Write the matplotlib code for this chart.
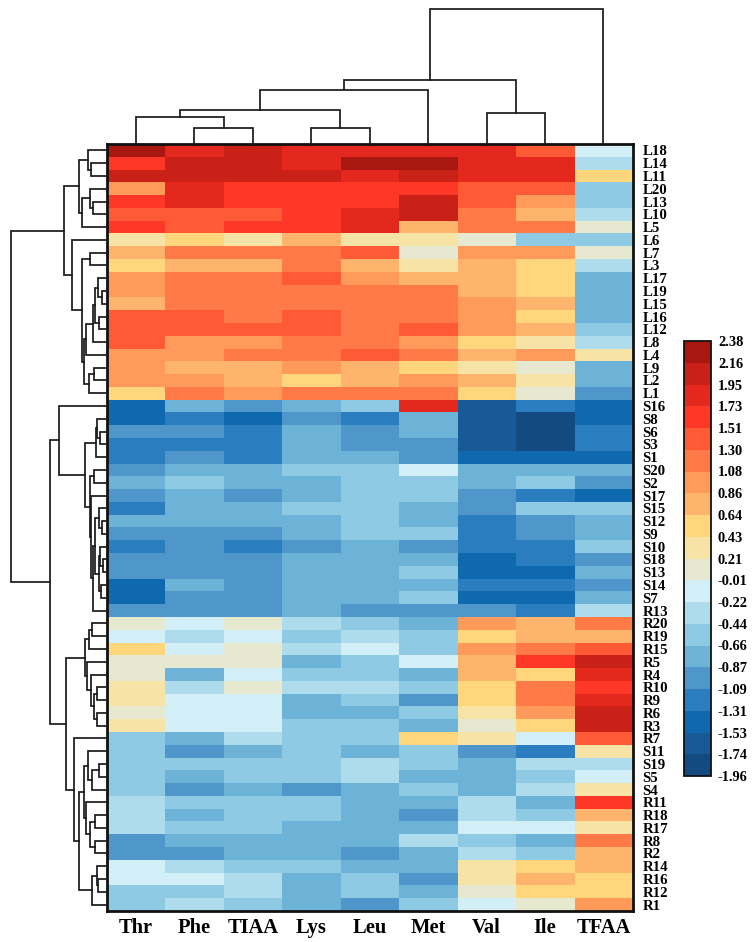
import matplotlib
matplotlib.use("Agg")
import matplotlib.pyplot as plt
import numpy as np
from matplotlib.colors import ListedColormap, BoundaryNorm

plt.rcParams['font.family'] = 'Liberation Serif'
plt.rcParams['font.weight'] = 'bold'

col_names = ['Thr', 'Phe', 'TIAA', 'Lys', 'Leu', 'Met', 'Val', 'Ile', 'TFAA']
row_names = ['L18', 'L14', 'L11', 'L20', 'L13', 'L10', 'L5', 'L6', 'L7', 'L3',
             'L17', 'L19', 'L15', 'L16', 'L12', 'L8', 'L4', 'L9', 'L2', 'L1',
             'S16', 'S8', 'S6', 'S3', 'S1', 'S20', 'S2', 'S17', 'S15', 'S12',
             'S9', 'S10', 'S18', 'S13', 'S14', 'S7', 'R13', 'R20', 'R19', 'R15',
             'R5', 'R4', 'R10', 'R9', 'R6', 'R3', 'R7', 'S11', 'S19', 'S5',
             'S4', 'R11', 'R18', 'R17', 'R8', 'R2', 'R14', 'R16', 'R12', 'R1']

thr = [2.27, 1.62, 2.05, 0.97, 1.62, 1.40, 1.62, 0.32, 0.75, 0.53,
       0.97, 0.97, 0.75, 1.40, 1.40, 1.40, 0.97, 0.97, 0.97, 0.53,
       -1.42, -1.42, -0.98, -1.20, -1.20, -0.98, -0.77, -0.98, -1.20, -0.77,
       -0.98, -1.20, -0.98, -0.98, -1.42, -1.42, -0.98, 0.10, -0.12, 0.53,
       0.10, 0.10, 0.32, 0.32, 0.10, 0.32, -0.55, -0.55, -0.55, -0.55,
       -0.55, -0.33, -0.33, -0.33, -0.98, -0.98, -0.12, -0.12, -0.55, -0.55]
phe = [1.84, 2.05, 2.05, 1.84, 1.84, 1.40, 1.40, 0.53, 1.19, 0.75,
       1.19, 1.19, 1.19, 1.40, 1.40, 0.97, 0.97, 0.75, 0.97, 1.19,
       -0.77, -1.20, -0.98, -1.20, -0.98, -0.77, -0.55, -0.77, -0.77, -0.77,
       -0.98, -0.98, -0.98, -0.98, -0.77, -0.98, -0.98, -0.12, -0.33, -0.12,
       0.10, -0.77, -0.33, -0.12, -0.12, -0.12, -0.77, -0.98, -0.55, -0.77,
       -0.98, -0.55, -0.77, -0.55, -0.77, -0.98, -0.33, -0.12, -0.55, -0.33]
tiaa = [2.05, 2.05, 2.05, 1.62, 1.62, 1.40, 1.62, 0.32, 1.19, 0.75,
        1.19, 1.19, 1.19, 1.19, 1.40, 0.97, 1.19, 0.75, 0.75, 0.97,
        -0.98, -1.42, -1.20, -1.20, -1.20, -0.77, -0.77, -0.98, -0.77, -0.77,
        -0.98, -1.20, -0.98, -0.98, -0.98, -0.98, -0.98, 0.10, -0.12, 0.10,
        0.10, -0.12, 0.10, -0.12, -0.12, -0.12, -0.33, -0.77, -0.55, -0.55,
        -0.77, -0.55, -0.55, -0.55, -0.77, -0.77, -0.55, -0.33, -0.33, -0.55]
lys = [1.84, 1.84, 2.05, 1.62, 1.62, 1.62, 1.62, 0.75, 1.19, 1.19,
       1.40, 1.19, 1.19, 1.40, 1.40, 1.19, 1.19, 0.97, 0.53, 1.19,
       -0.77, -0.98, -0.77, -0.77, -0.77, -0.55, -0.77, -0.77, -0.55, -0.77,
       -0.77, -0.98, -0.77, -0.77, -0.77, -0.77, -0.77, -0.33, -0.55, -0.33,
       -0.77, -0.55, -0.33, -0.77, -0.77, -0.55, -0.55, -0.55, -0.55, -0.55,
       -0.98, -0.55, -0.55, -0.77, -0.77, -0.77, -0.55, -0.77, -0.77, -0.77]
leu = [1.84, 2.27, 1.84, 1.62, 1.62, 1.84, 1.84, 0.32, 1.40, 0.75,
       0.97, 1.19, 1.19, 1.19, 1.19, 1.19, 1.40, 0.75, 0.75, 1.19,
       -0.55, -1.20, -0.98, -0.98, -0.77, -0.55, -0.55, -0.55, -0.55, -0.55,
       -0.55, -0.77, -0.77, -0.77, -0.77, -0.77, -0.98, -0.55, -0.33, -0.12,
       -0.55, -0.55, -0.33, -0.55, -0.77, -0.55, -0.55, -0.77, -0.33, -0.33,
       -0.77, -0.77, -0.77, -0.77, -0.77, -0.98, -0.77, -0.55, -0.55, -0.98]
met = [1.84, 2.27, 2.05, 1.62, 2.05, 2.05, 0.75, 0.32, 0.10, 0.32,
       0.75, 1.19, 1.19, 1.19, 1.40, 0.97, 1.19, 0.53, 0.97, 1.19,
       1.84, -0.77, -0.77, -0.98, -0.98, -0.12, -0.55, -0.55, -0.77, -0.77,
       -0.55, -0.98, -0.77, -0.55, -0.77, -0.55, -0.98, -0.77, -0.55, -0.55,
       -0.12, -0.77, -0.55, -0.98, -0.55, -0.77, 0.53, -0.55, -0.55, -0.77,
       -0.55, -0.77, -0.98, -0.77, -0.33, -0.77, -0.77, -0.98, -0.77, -0.55]
val = [1.84, 1.84, 1.84, 1.40, 1.40, 1.19, 1.19, 0.10, 0.97, 0.75,
       0.75, 0.75, 0.97, 0.97, 0.97, 0.53, 0.75, 0.32, 0.75, 0.53,
       -1.64, -1.64, -1.64, -1.64, -1.42, -0.77, -0.77, -0.98, -0.98, -1.20,
       -1.20, -1.20, -1.42, -1.42, -1.20, -1.42, -0.98, 0.97, 0.53, 0.97,
       0.75, 0.75, 0.53, 0.53, 0.32, 0.10, 0.32, -0.98, -0.77, -0.77,
       -0.77, -0.33, -0.33, -0.12, -0.55, -0.33, 0.32, 0.32, 0.10, -0.12]
ile = [1.40, 1.84, 1.84, 1.40, 0.97, 0.75, 1.19, -0.55, 0.97, 0.53,
       0.53, 0.53, 0.75, 0.53, 0.75, 0.32, 0.97, 0.10, 0.32, 0.10,
       -1.20, -1.85, -1.85, -1.85, -1.42, -0.77, -0.55, -1.20, -0.55, -0.98,
       -0.98, -1.20, -1.20, -1.42, -1.20, -1.42, -1.20, 0.75, 0.75, 1.19,
       1.62, 0.53, 1.19, 1.19, 0.97, 0.53, -0.12, -1.20, -0.33, -0.55,
       -0.33, -0.77, -0.55, -0.12, -0.77, -0.55, 0.53, 0.75, 0.53, 0.10]
tfaa = [-0.12, -0.33, 0.53, -0.55, -0.55, -0.33, 0.10, -0.55, 0.10, -0.33,
        -0.77, -0.77, -0.77, -0.77, -0.55, -0.33, 0.32, -0.77, -0.77, -0.98,
        -1.42, -1.42, -1.20, -1.20, -1.42, -0.77, -0.98, -1.42, -0.55, -0.77,
        -0.77, -0.55, -0.98, -0.77, -0.98, -0.77, -0.33, 1.19, 0.75, 1.40,
        2.05, 1.84, 1.62, 1.84, 2.05, 2.05, 1.40, 0.32, -0.33, -0.12,
        0.32, 1.62, 0.75, 0.32, 1.19, 0.75, 0.75, 0.53, 0.53, 0.97]

levels = [-1.96, -1.74, -1.53, -1.31, -1.09, -0.87, -0.66, -0.44, -0.22, -0.01, 0.21,
          0.43, 0.64, 0.86, 1.08, 1.30, 1.51, 1.73, 1.95, 2.16, 2.38]
bin_colors = ['#134a80', '#175a97', '#0f69ae', '#2a7dbf', '#4f97ca', '#6db3d8', '#8fcae4',
              '#aedcec', '#d2eef7', '#e6e8cf', '#f8e3a6', '#ffd67c', '#ffb46e', '#ff9a5a',
              '#ff7a47', '#ff5a36', '#ff3726', '#e5281e', '#c92118', '#a81810']

# merges as (distance, left, right), a plain int is a leaf
upper_a = (28, (19, 0, (15.5, 1, 2)), (24.5, (16.5, 3, (14, 4, 5)), 6))
group_a = (14, (12, (9, 10, (5, 11, 12)), (8, 13, 14)), 15)
group_d = (18, (13, 17, 18), 19)
upper_b = (34.5, 7, (24.5, (17, 8, 9), (23, (20.5, group_a, 16), group_d)))
s_top = (11, (9.5, 21, (6.5, 22, 23)), 24)
s_mid = (13.5, (11.5, (8, 28, (4.5, 29, 30)), (8, (7, 31, (4, 32, 33)), (6, 34, 35))), 36)
s_all = (47.5, 20, (21.5, s_top, (17, (13, 25, 26), (16, 27, s_mid))))
r_top = (21.5, (17.5, (15, 37, 38), 39), (20, 40, (16, 41, (13, (10, 42, 43), (10, 44, 45)))))
r_low = (32.5, 46, (27.5, (23, (19, 47, (14.5, (7.5, 48, 49), 50)),
                            (20.5, 51, (16.5, (11.5, 52, 53), (11.5, 54, 55)))),
                    (15, (10, 56, (9, 57, 58)), 59)))
row_tree = (95.5, (43, upper_a, upper_b), (56.5, s_all, (41, r_top, r_low)))
col_tree = (135, (64, (54, (34, (27, 0, (16, 1, 2)), (16, 3, 4)), 5), (31, 6, 7)), 8)

W, H = 752, 942


def px_axes(left, top, right, bottom):
    return fig.add_axes([left / W, 1 - bottom / H, (right - left) / W, (bottom - top) / H])


def draw_tree(ax, node, sideways):
    if isinstance(node, int):
        return node + 0.5, 0
    d, left, right = node
    p1, d1 = draw_tree(ax, left, sideways)
    p2, d2 = draw_tree(ax, right, sideways)
    pos = [p1, p1, p2, p2]
    dist = [d1, d, d, d2]
    if sideways:
        ax.plot(dist, pos, color='#1a1a1a', lw=1.25, clip_on=False, solid_joinstyle='miter')
    else:
        ax.plot(pos, dist, color='#1a1a1a', lw=1.25, clip_on=False, solid_joinstyle='miter')
    return (p1 + p2) / 2, d


fig = plt.figure(figsize=(W / 100, H / 100), dpi=100)

data = np.array([thr, phe, tiaa, lys, leu, met, val, ile, tfaa]).T
cmap = ListedColormap(bin_colors)
norm = BoundaryNorm(levels, cmap.N)

ax = px_axes(106.7, 144, 632.7, 911)
im = ax.imshow(data, cmap=cmap, norm=norm, aspect='auto', interpolation='nearest',
               extent=(0, 9, 60, 0))
ax.set_xticks(np.arange(9) + 0.5)
ax.set_xticklabels(col_names, fontsize=14.8)
ax.set_yticks(np.arange(60) + 0.5)
ax.set_yticklabels(row_names, fontsize=10.7)
ax.yaxis.tick_right()
ax.tick_params(axis='both', length=0)
ax.tick_params(axis='y', pad=7)
ax.tick_params(axis='x', pad=5)
for s in ax.spines.values():
    s.set_linewidth(2)
    s.set_color('#111111')

top = px_axes(106.7, 8, 632.7, 144)
draw_tree(top, col_tree, False)
top.set_xlim(0, 9)
top.set_ylim(0, 136)
top.axis('off')

side = px_axes(0, 144, 106.7, 911)
draw_tree(side, row_tree, True)
side.set_xlim(106.7, 0)
side.set_ylim(60, 0)
side.axis('off')

cax = px_axes(684, 341, 711, 776)
cb = fig.colorbar(im, cax=cax, ticks=levels, spacing='uniform', drawedges=False)
cb.ax.set_yticklabels(['%.2f' % v for v in levels], fontsize=10.4)
cb.ax.tick_params(length=0, pad=5)
cb.outline.set_linewidth(1.3)
cb.outline.set_edgecolor('#111111')

fig.savefig('out.png', dpi=100)
